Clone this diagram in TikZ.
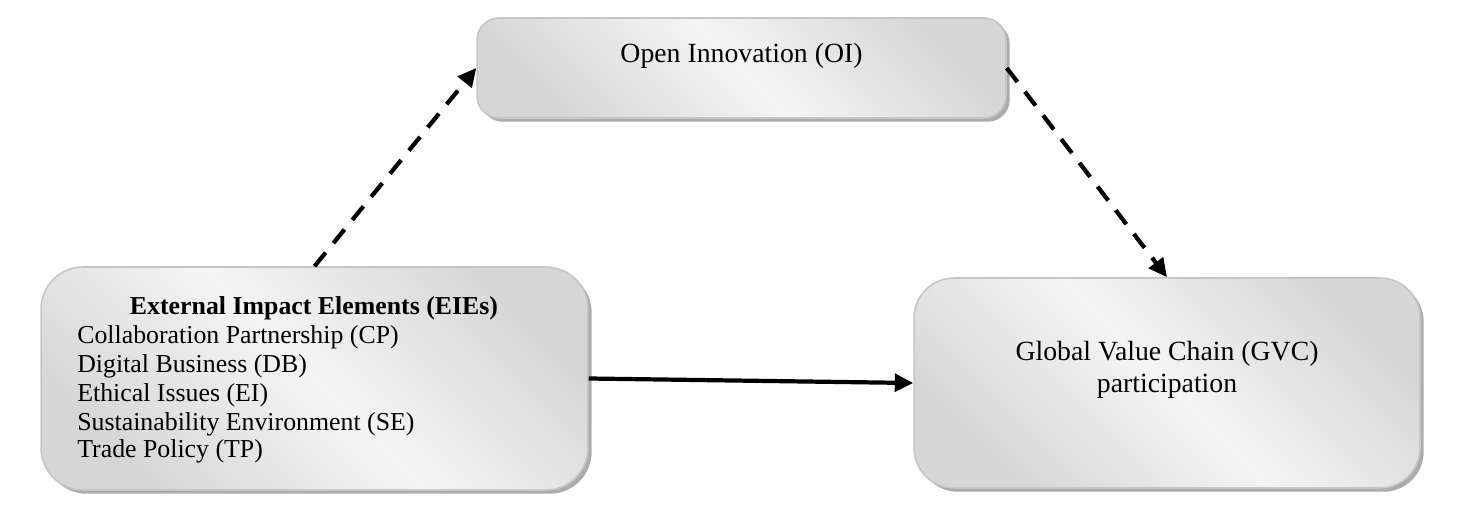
\documentclass[tikz,border=0pt]{standalone}
\usepackage{fontspec}
\setmainfont{Liberation Serif}
\usetikzlibrary{arrows.meta,shadows}
\begin{document}
\begin{tikzpicture}[x=0.02cm,y=-0.02cm,
  box/.style={draw=gray!45, line width=0.9pt, rounded corners=#1,
    top color=gray!32, bottom color=gray!32, middle color=gray!8,
    shading angle=-45,
    drop shadow={shadow xshift=0.075cm, shadow yshift=-0.075cm, fill=gray!65, opacity=1},
    inner sep=0pt},
  box/.default=0.8cm,
  lbl/.style={inner sep=0pt, anchor=base},
  lblw/.style={inner sep=0pt, anchor=base west},
  eiefont/.style={font=\fontsize{14.7}{16.3}\selectfont},
  bigfont/.style={font=\fontsize{15.8}{18}\selectfont},
  conn/.style={line width=2.4pt, -{Triangle[length=10.5pt,width=10pt]}},
  dconn/.style={conn, dash pattern=on 10pt off 7pt}]
\useasboundingbox (0,0) rectangle (1467,506);
% boxes
\node[box=0.44cm, minimum width=10.58cm, minimum height=2.0cm] (oi) at (741.5,68) {};
\node[box=0.84cm, minimum width=10.94cm, minimum height=4.46cm] (eie) at (314.5,378.5) {};
\node[box=0.8cm, minimum width=10.12cm, minimum height=4.2cm] (gvc) at (1167,383) {};
% texts
\node[lbl, bigfont] (oit) at (741.5,63) {Open Innovation (OI)};
\node[lbl, eiefont] (eiet) at (314,315) {\bfseries External Impact Elements (EIEs)};
\node[lblw, eiefont] (l1) at (77,344) {Collaboration Partnership (CP)};
\node[lblw, eiefont] (l2) at (77,373) {Digital Business (DB)};
\node[lblw, eiefont] (l3) at (77,401) {Ethical Issues (EI)};
\node[lblw, eiefont] (l4) at (77,430) {Sustainability Environment (SE)};
\node[lblw, eiefont] (l5) at (77,458) {Trade Policy (TP)};
\node[lbl, bigfont] (g1) at (1167,360) {Global Value Chain (GVC)};
\node[lbl, bigfont] (g2) at (1167,393) {participation};
% connectors
\draw[conn] (eie.east) -- (gvc.west);
\draw[dconn] (eie.north) -- (oi.west);
\draw[dconn] (oi.east) -- (gvc.north);
\end{tikzpicture}
\end{document}
